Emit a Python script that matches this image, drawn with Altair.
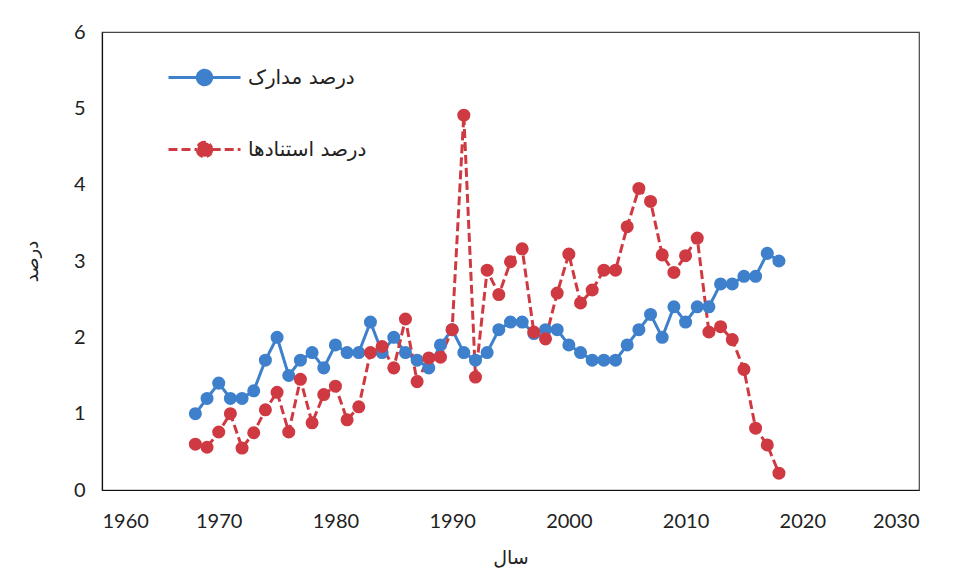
import altair as alt
import pandas as pd

years = list(range(1968, 2019))
docs = [1.0, 1.2, 1.4, 1.2, 1.2, 1.3, 1.7, 2.0, 1.5, 1.7,
        1.8, 1.6, 1.9, 1.8, 1.8, 2.2, 1.8, 2.0, 1.8, 1.7,
        1.6, 1.9, 2.1, 1.8, 1.7, 1.8, 2.1, 2.2, 2.2, 2.05,
        2.1, 2.1, 1.9, 1.8, 1.7, 1.7, 1.7, 1.9, 2.1, 2.3,
        2.0, 2.4, 2.2, 2.4, 2.4, 2.7, 2.7, 2.8, 2.8, 3.1, 3.0]
cites = [0.6, 0.56, 0.76, 1.0, 0.55, 0.75, 1.05, 1.28, 0.76, 1.45,
         0.88, 1.25, 1.36, 0.92, 1.09, 1.8, 1.88, 1.6, 2.24, 1.42,
         1.73, 1.74, 2.1, 4.91, 1.48, 2.88, 2.56, 2.99, 3.16, 2.07,
         1.98, 2.58, 3.09, 2.45, 2.62, 2.88, 2.88, 3.45, 3.95, 3.78,
         3.08, 2.85, 3.07, 3.3, 2.07, 2.14, 1.97, 1.58, 0.81, 0.59, 0.22]

lab_docs = "درصد مدارک"
lab_cites = "درصد استنادها"
series_names = [lab_docs, lab_cites]
colors = ["#3e80cb", "#cf3a42"]
dashes = [[1, 0], [9, 4]]

df = pd.concat([
    pd.DataFrame({"year": years, "value": docs, "series": lab_docs, "ord": 0}),
    pd.DataFrame({"year": years, "value": cites, "series": lab_cites, "ord": 1}),
], ignore_index=True)

xenc = alt.X("year:Q", scale=alt.Scale(domain=[1960, 2030], nice=False),
             axis=alt.Axis(title="سال", values=[1960, 1970, 1980, 1990, 2000, 2010, 2020, 2030],
                           format="d", grid=False, ticks=False, labelPadding=21,
                           titlePadding=17, titleFont="DejaVu Sans", titleFontSize=19,
                           titleFontWeight="normal"))
yenc = alt.Y("value:Q", scale=alt.Scale(domain=[0, 6], nice=False),
             axis=alt.Axis(title="درصد", values=[0, 1, 2, 3, 4, 5, 6], grid=False, ticks=False,
                           labelPadding=17, titlePadding=32, titleFont="DejaVu Sans",
                           titleFontSize=18, titleFontWeight="normal"))

sym_path = "M-1,0L-0.2,0M0.2,0L1,0M0.2,0A0.2,0.2,0,1,1,-0.2,0A0.2,0.2,0,1,1,0.2,0Z"


def make_legend():
    return alt.Legend(
        title=None, orient="none", legendX=65, legendY=8,
        symbolType=sym_path, symbolSize=5184, symbolStrokeWidth=3,
        labelFont="DejaVu Sans", labelFontSize=20,
        labelColor="#222", labelOffset=6, rowPadding=21,
    )


color = alt.Color("series:N", scale=alt.Scale(domain=series_names, range=colors),
                  legend=make_legend())
dash = alt.StrokeDash("series:N", scale=alt.Scale(domain=series_names, range=dashes),
                      legend=make_legend())
fill = alt.Fill("series:N", scale=alt.Scale(domain=series_names, range=colors),
                legend=make_legend())

lines = alt.Chart(df).mark_line(strokeWidth=3).encode(
    x=xenc, y=yenc, color=color, strokeDash=dash, detail="series:N")
points = alt.Chart(df).mark_circle(size=170, opacity=1, strokeWidth=0).encode(
    x=xenc, y=yenc, fill=fill, order="ord:Q")

chart = alt.layer(lines, points).properties(
    width=817, height=458,
    padding={"left": 15, "top": 14, "right": 5, "bottom": 5},
).configure_view(stroke="#444", strokeWidth=1.2).configure_axis(
    domainColor="#111", domainWidth=1.2, labelFont="Lato", labelFontSize=20,
    labelColor="#222", titleColor="#222")

chart.save("out.html", embed_options={"renderer": "svg", "actions": False})
